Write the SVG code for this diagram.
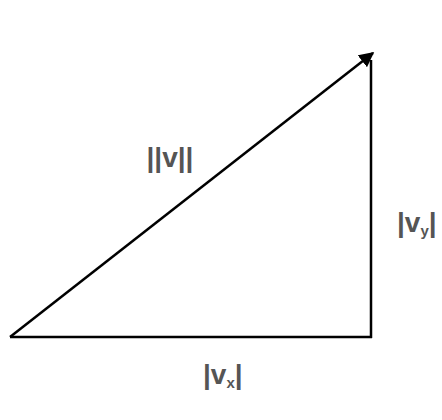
<svg xmlns="http://www.w3.org/2000/svg" width="442" height="420" viewBox="0 0 442 420">
<style>
.ln{stroke:#000;stroke-width:2.5;fill:none}
.lb{font-family:"Liberation Sans",Arial,sans-serif;font-weight:bold;font-size:28px;fill:#555}
.sub{font-size:15px}
</style>
<defs>
<marker id="ah" viewBox="0 0 10 10" refX="9" refY="5" markerWidth="6" markerHeight="6" markerUnits="strokeWidth" orient="auto">
<path d="M0,0 L10,5 L0,10 Z" fill="#000"/>
</marker>
</defs>
<rect width="442" height="420" fill="#fff"/>
<g id="connectors">
<line class="ln" x1="10" y1="337" x2="372" y2="337"/>
<line class="ln" x1="371" y1="338" x2="371" y2="60"/>
<line class="ln" x1="10" y1="337" x2="373" y2="53" marker-end="url(#ah)"/>
</g>
<g id="label-v"><text class="lb" x="170" y="167" text-anchor="middle">||v||</text></g>
<g id="label-vy"><text class="lb" x="397" y="232">|v<tspan class="sub" dy="4">y</tspan><tspan dy="-4">|</tspan></text></g>
<g id="label-vx"><text class="lb" x="203" y="384">|v<tspan class="sub" dy="4">x</tspan><tspan dy="-4">|</tspan></text></g>
</svg>
